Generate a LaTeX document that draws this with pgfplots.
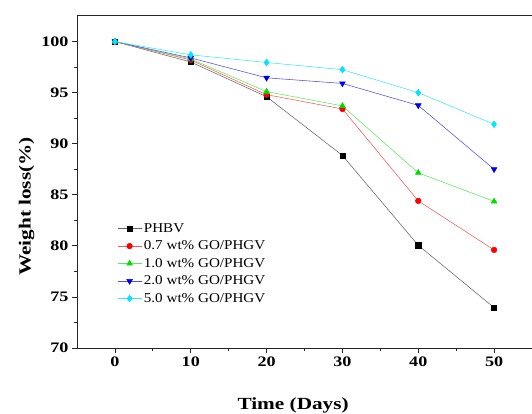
\documentclass[border=0pt]{standalone}
\usepackage{pgfplots}
\pgfplotsset{compat=1.18}
\usepackage{fontspec}
\setmainfont{Liberation Serif}
\newfontfamily\wfont[FakeStretch=1.25]{Liberation Serif}
\newfontfamily\lfont[FakeStretch=1.12]{Liberation Serif}
\definecolor{cCy}{RGB}{0,230,255}
\definecolor{cGr}{RGB}{0,220,0}
\definecolor{cGrL}{RGB}{90,235,90}
\definecolor{cRd}{RGB}{255,0,0}
\definecolor{cRdL}{RGB}{245,90,90}
\definecolor{cBl}{RGB}{0,0,230}
\definecolor{cBlL}{RGB}{80,80,225}
\definecolor{cCyL}{RGB}{60,230,250}
\begin{document}
\begin{tikzpicture}
\useasboundingbox (-77pt,-66pt) rectangle (455pt,348pt);
\begin{axis}[
  scale only axis,
  width=455pt, height=333pt,
  xmin=-5, xmax=55, ymin=70, ymax=102.6,
  axis x line*=bottom, axis y line*=left,
  x axis line style={-}, y axis line style={-},
  axis line style={line width=0.9pt, black!85},
  xtick={0,10,20,30,40,50},
  ytick={70,75,80,85,90,95,100},
  minor x tick num=1, minor y tick num=1,
  tick align=outside,
  major tick length=5pt, minor tick length=3pt,
  tick style={line width=0.8pt, black!85},
  /pgf/number format/assume math mode=true,
  ticklabel style={font=\wfont\bfseries\fontsize{14.5}{14.5}\selectfont},
  xlabel={Time (Days)}, ylabel={Weight loss(\%)},
  label style={font=\wfont\bfseries\fontsize{17}{17}\selectfont},
  xlabel style={at={(axis description cs:0.475,0)}, anchor=south, yshift=-69pt},
  every axis y label/.append style={at={(ticklabel cs:0.44)}, xshift=-5pt},
  legend style={draw=none, fill=none, font=\lfont\fontsize{13.5}{13.5}\selectfont,
    at={(axis cs:-0.1,82.6)}, anchor=north west, row sep=3pt,
    legend cell align=left},
  legend image code/.code={%
    \draw[mark repeat=2,mark phase=2] plot coordinates {(0pt,0pt) (12pt,0pt) (24pt,0pt)};},
  every axis plot/.append style={line width=0.55pt, mark size=2.8pt},
]
\addplot[black!60, mark=square*, mark options={black, mark size=2.6pt}] coordinates {(0,100) (10,98.0) (20,94.6) (30,88.85) (40,80.05) (50,73.95)};
\addlegendentry{PHBV}
\addplot[cRdL, mark=*, mark options={cRd}] coordinates {(0,100) (10,98.2) (20,94.8) (30,93.4) (40,84.4) (50,79.6)};
\addlegendentry{0.7 wt\% GO/PHGV}
\addplot[cGrL, mark=triangle*, mark options={cGr, mark size=3.3pt}] coordinates {(0,100) (10,98.3) (20,95.1) (30,93.7) (40,87.15) (50,84.35)};
\addlegendentry{1.0 wt\% GO/PHGV}
\addplot[cBlL, mark=triangle*, mark options={cBl, rotate=180, mark size=3.3pt}] coordinates {(0,100) (10,98.4) (20,96.45) (30,95.9) (40,93.75) (50,87.5)};
\addlegendentry{2.0 wt\% GO/PHGV}
\addplot[cCyL, mark=diamond*, mark options={cCy, mark size=3.3pt}] coordinates {(0,100) (10,98.7) (20,97.95) (30,97.25) (40,95.0) (50,91.9)};
\addlegendentry{5.0 wt\% GO/PHGV}
\draw[line width=0.9pt, black!85] (rel axis cs:0,1) -- (rel axis cs:1,1);
\end{axis}
\end{tikzpicture}
\end{document}
